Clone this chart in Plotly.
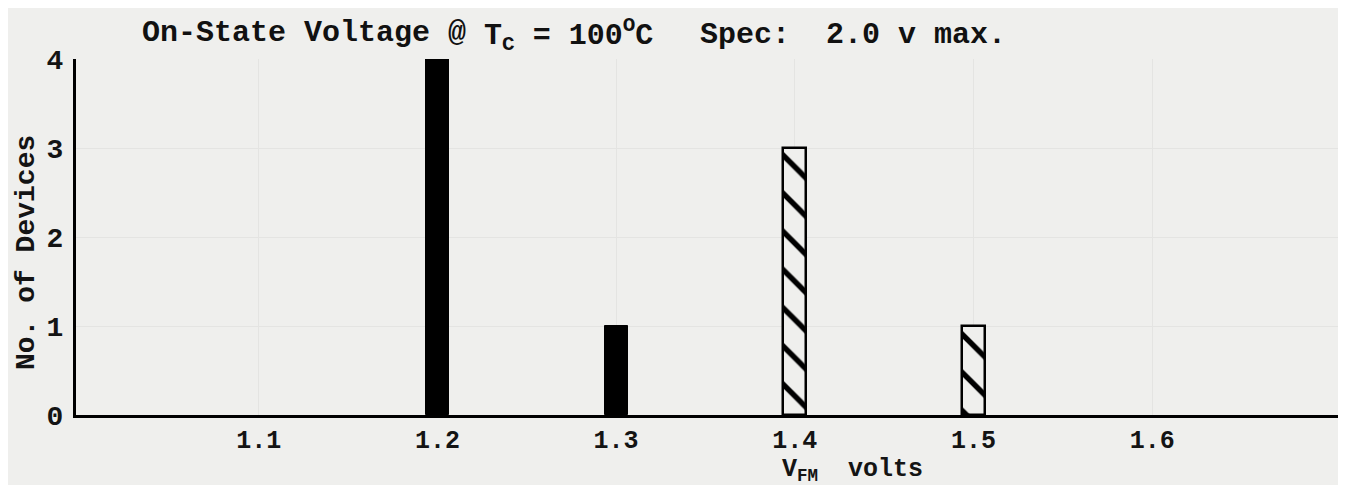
import plotly.graph_objects as go

# ---- data ----
solid_v = [1.2, 1.3]
solid_n = [4, 1]
hatch_v = [1.4, 1.5]
hatch_n = [3, 1]
x_ticks = [1.1, 1.2, 1.3, 1.4, 1.5, 1.6]
x_tick_text = ["1.1", "1.2", "1.3", "1.4", "1.5", "1.6"]
y_ticks = [0, 1, 2, 3, 4]
y_tick_text = ["0", "1", "2", "3", "4"]

FONT = "Liberation Mono, Courier New, monospace"
BG = "#efefed"
BAR_W = 0.0128
INK = "#141414"

fig = go.Figure()
fig.add_trace(go.Bar(
    x=solid_v, y=solid_n, width=BAR_W,
    marker=dict(color="black", line=dict(color="black", width=1)),
    showlegend=False,
))
fig.add_trace(go.Bar(
    x=hatch_v, y=hatch_n, width=BAR_W,
    marker=dict(color=BG,
                line=dict(color="black", width=2.5),
                pattern=dict(shape="\\", fgcolor="black", bgcolor=BG,
                             fgopacity=1, fillmode="replace",
                             size=27, solidity=0.2)),
    showlegend=False,
))

# page body has an 8px margin: shrink figure so plot area lands on reference pixels
fig.update_layout(
    width=1338, height=477,
    margin=dict(l=68, r=6, t=51, b=70, autoexpand=False),
    paper_bgcolor=BG, plot_bgcolor=BG,
    bargap=0,
    font=dict(family=FONT, color=INK),
    xaxis=dict(
        range=[0.99776, 1.7051],
        tickvals=x_ticks, ticktext=x_tick_text, tickmode="array",
        tickfont=dict(family=FONT, size=25, weight="bold", color=INK),
        ticks="", ticklabelstandoff=0,
        showline=True, linecolor="black", linewidth=3,
        showgrid=True, gridcolor="#e4e4e2", gridwidth=1,
        zeroline=False, automargin=False,
    ),
    yaxis=dict(
        range=[0, 4],
        tickvals=y_ticks, ticktext=y_tick_text,
        tickfont=dict(family=FONT, size=28, weight="bold", color=INK),
        ticks="", ticklabelstandoff=4,
        showline=True, linecolor="black", linewidth=3,
        showgrid=True, gridcolor="#e4e4e2", gridwidth=1,
        zeroline=False, automargin=False,
    ),
)

def px(xpix):
    return (xpix - 76) / 1264

def py(ypix):
    return 1 - (ypix - 59) / 356

tfont = dict(family=FONT, size=30, color="#111111", weight="bold")
fig.add_annotation(text="On-State Voltage @", x=px(140), y=py(33), xref="paper", yref="paper",
                   xanchor="left", yanchor="middle", showarrow=False, font=tfont)
fig.add_annotation(text="T<sub>C</sub> = 100<sup>O</sup>C", x=px(482), y=py(35),
                   xref="paper", yref="paper",
                   xanchor="left", yanchor="middle", showarrow=False, font=tfont)
fig.add_annotation(text="Spec:  2.0 v max.", x=px(698), y=py(35), xref="paper", yref="paper",
                   xanchor="left", yanchor="middle", showarrow=False, font=tfont)

# axis titles
fig.add_annotation(text="No. of Devices", x=px(26), y=py(253),
                   xref="paper", yref="paper", textangle=-90,
                   xanchor="center", yanchor="middle", showarrow=False,
                   font=dict(family=FONT, size=28, weight="bold", color=INK))
fig.add_annotation(text="V<sub>FM</sub>  volts", x=px(780), y=py(470),
                   xref="paper", yref="paper",
                   xanchor="left", yanchor="middle", showarrow=False,
                   font=dict(family=FONT, size=25, weight="bold", color=INK))

fig.write_html("out.html")
